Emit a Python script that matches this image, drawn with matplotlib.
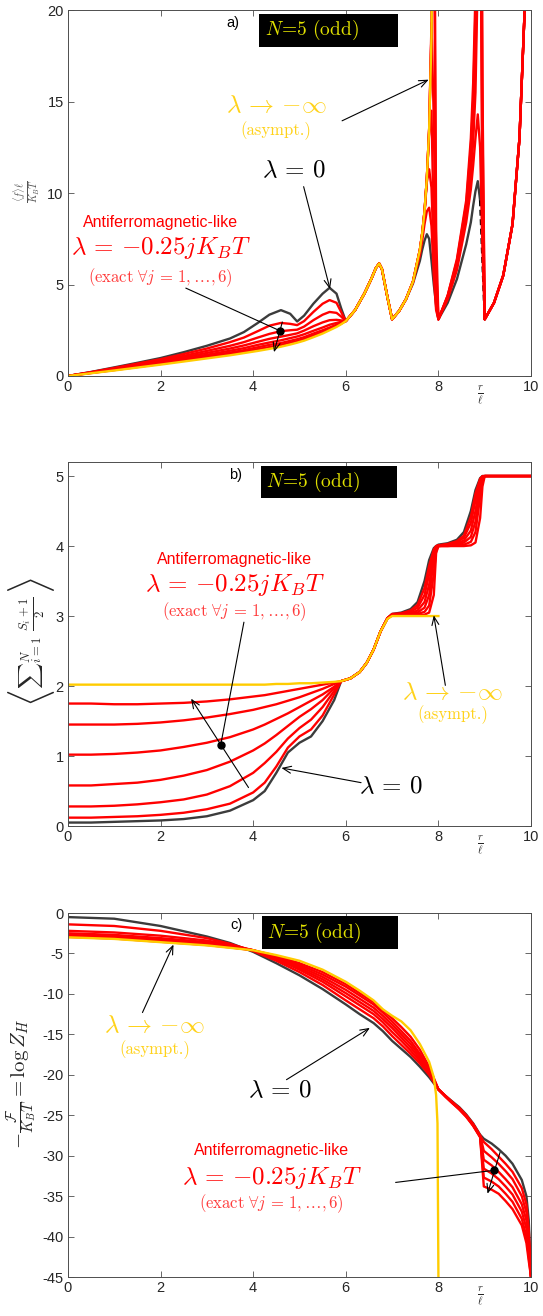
import numpy as np
import matplotlib
matplotlib.use('Agg')
import matplotlib.pyplot as plt
from matplotlib.patches import Rectangle

plt.rcParams['font.family'] = ['Liberation Sans', 'DejaVu Sans']
plt.rcParams['mathtext.fontset'] = 'cm'

NAN = np.nan

# ---------------- panel a: <f> l / KBT ----------------
x_a = [0, 0.5, 1, 1.5, 2, 2.5, 3, 3.5, 3.8, 4.1, 4.35, 4.6, 4.8, 4.95, 5.1, 5.3, 5.5, 5.65, 5.8, 5.9, 6.0,
       6.2, 6.4, 6.55, 6.65, 6.72, 6.78, 6.9, 7.0, 7.05, 7.15, 7.3, 7.45, 7.6,
       7.65, 7.7, 7.75, 7.8, 7.85, 7.9, 7.95, 8.0,
       8.2, 8.4, 8.6, 8.7, 8.75, 8.8, 8.85, 8.9, 8.95, 9.0,
       9.2, 9.4, 9.6, 9.75, 9.87, 10.0]

black_a = [0, 0.22, 0.47, 0.72, 0.98, 1.3, 1.65, 2.05, 2.4, 2.9, 3.35, 3.6, 3.4, 2.98, 3.3, 3.95, 4.5, 4.82, 4.5, 3.7, 3.0,
           3.6, 4.5, 5.3, 5.9, 6.15, 5.85, 4.3, 3.1, 3.25, 3.55, 4.2, 5.05, 6.3,
           6.9, 7.4, 7.75, 7.5, 6.3, 5.0, 3.9, 3.1,
           4.0, 5.3, 7.2, 8.4, 9.3, 10.1, 10.65, 9.6, 6.3, 3.1,
           4.0, 5.5, 8.3, 13.0, 20.5, 30]

reds_a = [
    [0, 0.21, 0.44, 0.68, 0.92, 1.2, 1.5, 1.85, 2.1, 2.45, 2.75, 2.9, 2.85, 2.78, 3.0, 3.5, 3.95, 4.15, 4.0, 3.5, 3.0,
     3.6, 4.5, 5.3, 5.9, 6.15, 5.85, 4.3, 3.1, 3.25, 3.55, 4.2, 5.15, 6.6,
     7.4, 8.3, 9.0, 9.2, 8.2, 5.5, 3.6, 3.1,
     4.2, 5.8, 8.4, 10.2, 11.5, 13.0, 14.3, 12.5, 7.0, 3.1,
     4.0, 5.5, 8.3, 13.0, 20.5, 30],
    [0, 0.2, 0.41, 0.63, 0.86, 1.1, 1.37, 1.65, 1.85, 2.1, 2.3, 2.45, 2.5, 2.53, 2.7, 3.05, 3.35, 3.5, 3.45, 3.25, 3.0,
     3.6, 4.5, 5.3, 5.9, 6.15, 5.85, 4.3, 3.1, 3.25, 3.55, 4.2, 5.15, 6.8,
     7.7, 8.9, 10.6, 11.3, 10.3, 6.5, 3.8, 3.1,
     4.3, 6.0, 8.8, 11.0, 12.8, 15.5, 22, 30, 9, 3.1,
     4.0, 5.5, 8.3, 13.0, 20.5, 30],
    [0, 0.19, 0.38, 0.59, 0.8, 1.02, 1.26, 1.5, 1.67, 1.87, 2.03, 2.15, 2.25, 2.33, 2.48, 2.72, 2.93, 3.05, 3.07, 3.04, 3.0,
     3.6, 4.5, 5.3, 5.9, 6.15, 5.85, 4.3, 3.1, 3.25, 3.55, 4.2, 5.15, 6.9,
     7.8, 9.0, 10.8, 13.3, 14.5, 8.0, 4.2, 3.1,
     4.3, 6.1, 9.0, 11.5, 13.5, 17, 25, 35, 10, 3.1,
     4.0, 5.5, 8.3, 13.0, 20.5, 30],
    [0, 0.18, 0.36, 0.55, 0.75, 0.95, 1.16, 1.38, 1.52, 1.7, 1.83, 1.95, 2.07, 2.16, 2.28, 2.47, 2.65, 2.8, 2.9, 2.96, 3.0,
     3.6, 4.5, 5.3, 5.9, 6.15, 5.85, 4.3, 3.1, 3.25, 3.55, 4.2, 5.15, 6.9,
     7.8, 9.0, 10.8, 13.5, 19.3, 14.0, 5.0, 3.1,
     4.35, 6.2, 9.2, 12.0, 14.3, 19, 28, 40, 12, 3.1,
     4.0, 5.5, 8.3, 13.0, 20.5, 30],
    [0, 0.17, 0.34, 0.52, 0.7, 0.89, 1.08, 1.28, 1.41, 1.57, 1.7, 1.8, 1.92, 2.01, 2.12, 2.32, 2.5, 2.65, 2.8, 2.9, 3.0,
     3.6, 4.5, 5.3, 5.9, 6.15, 5.85, 4.3, 3.1, 3.25, 3.55, 4.2, 5.15, 6.9,
     7.8, 9.0, 10.8, 13.5, 18.8, 28, 6.0, 3.1,
     4.4, 6.3, 9.4, 12.5, 15, 20, 30, 45, 14, 3.1,
     4.0, 5.5, 8.3, 13.0, 20.5, 30],
    [0, 0.16, 0.32, 0.49, 0.66, 0.84, 1.02, 1.2, 1.32, 1.47, 1.58, 1.7, 1.82, 1.91, 2.02, 2.22, 2.4, 2.57, 2.73, 2.86, 3.0,
     3.6, 4.5, 5.3, 5.9, 6.15, 5.85, 4.3, 3.1, 3.25, 3.55, 4.2, 5.15, 6.9,
     7.8, 9.0, 10.8, 13.5, 18.8, 35, 8.0, 3.1,
     4.4, 6.4, 9.6, 13, 16, 21, 32, 50, 16, 3.1,
     4.0, 5.5, 8.3, 13.0, 20.5, 30],
]

yellow_a = [0, 0.15, 0.3, 0.46, 0.62, 0.79, 0.96, 1.13, 1.25, 1.37, 1.48, 1.6, 1.72, 1.82, 1.93, 2.12, 2.32, 2.5, 2.68, 2.83, 3.0,
            3.6, 4.5, 5.3, 5.9, 6.15, 5.85, 4.3, 3.1, 3.25, 3.55, 4.2, 5.15, 6.9,
            7.8, 9.0, 10.8, 13.5, 18.5, 30, NAN, NAN,
            NAN, NAN, NAN, NAN, NAN, NAN, NAN, NAN, NAN, NAN,
            NAN, NAN, NAN, NAN, NAN, NAN]

# ---------------- panel b: <sum (S_i+1)/2> ----------------
x_b = [0, 0.5, 1, 1.5, 2, 2.5, 3, 3.5, 4, 4.25, 4.5, 4.75, 5, 5.25, 5.5, 5.75, 5.9,
       6.1, 6.3, 6.45, 6.6, 6.75, 6.9, 7.0,
       7.2, 7.4, 7.55, 7.7, 7.8, 7.9, 7.95, 8.0,
       8.2, 8.4, 8.55, 8.7, 8.8, 8.9, 8.95, 9.0,
       9.2, 10]

black_b = [0.05, 0.05, 0.06, 0.07, 0.08, 0.1, 0.14, 0.22, 0.37, 0.5, 0.76, 1.05, 1.19, 1.28, 1.5, 1.8, 2.07,
           2.11, 2.2, 2.33, 2.52, 2.78, 2.97, 3.03,
           3.05, 3.1, 3.2, 3.5, 3.8, 3.97, 4.0, 4.02,
           4.04, 4.09, 4.2, 4.5, 4.8, 4.97, 5.0, 5.0,
           5.0, 5.0]

reds_b = [
    [0.12, 0.12, 0.13, 0.14, 0.16, 0.19, 0.24, 0.32, 0.48, 0.62, 0.85, 1.12, 1.28, 1.38, 1.58, 1.88, 2.07,
     2.11, 2.2, 2.33, 2.52, 2.78, 2.97, 3.03,
     3.04, 3.08, 3.16, 3.4, 3.72, 3.95, 4.0, 4.01,
     4.03, 4.07, 4.15, 4.42, 4.75, 4.96, 5.0, 5.0,
     5.0, 5.0],
    [0.28, 0.28, 0.29, 0.31, 0.34, 0.38, 0.45, 0.57, 0.76, 0.9, 1.06, 1.25, 1.4, 1.52, 1.7, 1.93, 2.07,
     2.11, 2.2, 2.33, 2.52, 2.78, 2.97, 3.02,
     3.03, 3.06, 3.12, 3.3, 3.6, 3.92, 3.99, 4.01,
     4.02, 4.05, 4.12, 4.33, 4.65, 4.93, 4.99, 5.0,
     5.0, 5.0],
    [0.58, 0.58, 0.6, 0.62, 0.66, 0.72, 0.8, 0.92, 1.08, 1.18, 1.3, 1.43, 1.56, 1.67, 1.8, 1.97, 2.07,
     2.11, 2.2, 2.33, 2.52, 2.78, 2.97, 3.02,
     3.02, 3.04, 3.08, 3.2, 3.45, 3.88, 3.98, 4.0,
     4.01, 4.03, 4.08, 4.22, 4.5, 4.9, 4.98, 5.0,
     5.0, 5.0],
    [1.02, 1.02, 1.03, 1.05, 1.08, 1.13, 1.19, 1.27, 1.38, 1.45, 1.53, 1.61, 1.7, 1.79, 1.88, 1.99, 2.07,
     2.11, 2.2, 2.33, 2.52, 2.78, 2.97, 3.02,
     3.02, 3.03, 3.05, 3.12, 3.3, 3.8, 3.96, 4.0,
     4.01, 4.02, 4.05, 4.13, 4.35, 4.85, 4.97, 5.0,
     5.0, 5.0],
    [1.45, 1.45, 1.45, 1.46, 1.48, 1.51, 1.55, 1.6, 1.66, 1.7, 1.74, 1.79, 1.84, 1.9, 1.96, 2.03, 2.07,
     2.11, 2.2, 2.33, 2.52, 2.78, 2.97, 3.01,
     3.01, 3.02, 3.03, 3.06, 3.15, 3.6, 3.93, 4.0,
     4.0, 4.01, 4.02, 4.06, 4.2, 4.7, 4.93, 5.0,
     5.0, 5.0],
    [1.75, 1.75, 1.74, 1.74, 1.75, 1.76, 1.78, 1.81, 1.85, 1.87, 1.9, 1.93, 1.96, 1.99, 2.02, 2.05, 2.07,
     2.11, 2.2, 2.33, 2.52, 2.78, 2.97, 3.01,
     3.01, 3.01, 3.01, 3.02, 3.05, 3.3, 3.9, 4.0,
     4.0, 4.0, 4.0, 4.01, 4.05, 4.4, 4.85, 5.0,
     5.0, 5.0],
]

yellow_b = [2.02, 2.02, 2.02, 2.02, 2.02, 2.02, 2.02, 2.02, 2.02, 2.02, 2.03, 2.03, 2.04, 2.04, 2.05, 2.06, 2.07,
            2.11, 2.2, 2.33, 2.52, 2.78, 2.96, 3.0,
            3.0, 3.0, 3.0, 3.0, 3.0, 3.0, 3.0, 3.0,
            NAN, NAN, NAN, NAN, NAN, NAN, NAN, NAN,
            NAN, NAN]

# ---------------- panel c: -F/KBT = log Z_H ----------------
x_c = [0, 1, 2, 3, 3.5, 4, 4.5, 5, 5.5, 6, 6.3, 6.6, 6.8, 7.0, 7.2, 7.4, 7.6, 7.8, 8.0,
       8.15, 8.3, 8.45, 8.6, 8.75, 8.9, 8.98, 9.15, 9.3, 9.45, 9.6, 9.8, 9.9, 9.95, 10.0]

black_c = [-0.5, -0.7, -1.6, -2.9, -3.7, -4.8, -6.2, -7.7, -9.4, -11.3, -12.5, -13.6, -14.6, -15.8, -16.8,
           -17.8, -19.0, -20.3, -21.8,
           -22.6, -23.3, -24.0, -24.9, -26.0, -27.4, -27.9, -28.5, -29.2, -30.0, -31.0, -33.0, -35.0, -38.0, -45]

reds_c = [
    [-1.4, -1.6, -2.2, -3.1, -3.8, -4.7, -5.9, -7.3, -8.9, -10.8, -11.9, -13.0, -14.0, -15.2, -16.3,
     -17.4, -18.6, -20.0, -21.8,
     -22.6, -23.4, -24.1, -25.0, -26.1, -27.5, -28.3, -29.2, -30.1, -31.0, -32.0, -34.0, -36.0, -39.0, -45],
    [-2.2, -2.4, -2.8, -3.4, -3.9, -4.6, -5.7, -7.0, -8.5, -10.3, -11.4, -12.5, -13.5, -14.7, -15.8,
     -17.0, -18.3, -19.8, -21.8,
     -22.6, -23.4, -24.1, -25.0, -26.1, -27.5, -29.4, -30.2, -31.0, -31.9, -32.9, -35.0, -37.0, -40.0, -45],
    [-2.5, -2.7, -3.1, -3.6, -4.0, -4.6, -5.6, -6.8, -8.2, -9.9, -11.0, -12.1, -13.1, -14.2, -15.4,
     -16.6, -18.0, -19.6, -21.8,
     -22.6, -23.4, -24.2, -25.1, -26.2, -27.6, -30.5, -31.2, -32.0, -32.9, -33.9, -36.0, -38.0, -41.0, -45],
    [-2.7, -2.9, -3.3, -3.75, -4.1, -4.6, -5.5, -6.6, -7.9, -9.5, -10.6, -11.7, -12.7, -13.8, -15.0,
     -16.2, -17.7, -19.4, -21.8,
     -22.6, -23.4, -24.2, -25.1, -26.2, -27.6, -31.6, -32.2, -32.9, -33.8, -34.8, -36.9, -39.0, -41.8, -45],
    [-2.85, -3.05, -3.45, -3.85, -4.2, -4.6, -5.4, -6.4, -7.6, -9.1, -10.2, -11.3, -12.3, -13.4, -14.6,
     -15.8, -17.4, -19.2, -21.8,
     -22.7, -23.5, -24.2, -25.1, -26.3, -27.7, -32.7, -33.2, -33.8, -34.7, -35.7, -37.8, -40.0, -42.5, -45],
    [-2.95, -3.15, -3.55, -3.95, -4.25, -4.6, -5.3, -6.2, -7.3, -8.8, -9.9, -11.0, -12.0, -13.0, -14.1,
     -15.3, -16.9, -19.0, -21.8,
     -22.7, -23.5, -24.3, -25.2, -26.3, -27.7, -33.8, -34.2, -34.7, -35.6, -36.6, -38.6, -40.8, -43.0, -45],
]

x_c_yellow = [0, 1, 2, 3, 3.5, 4, 4.5, 5, 5.5, 6, 6.3, 6.6, 6.8, 7.0, 7.2, 7.4, 7.6, 7.8, 7.9, 7.95, 7.98, 8.0]
yellow_c = [-3.0, -3.2, -3.6, -4.0, -4.3, -4.6, -5.2, -5.9, -7.0, -8.5, -9.6, -10.8, -11.9, -12.7, -13.4,
            -14.5, -16.2, -18.4, -20.3, -22.5, -26.0, -45]

yticks_a = [0, 5, 10, 15, 20]
yticks_b = [0, 1, 2, 3, 4, 5]
yticks_c = [0, -5, -10, -15, -20, -25, -30, -35, -40, -45]
xticks = [0, 2, 4, 6, 8, 10]

RED = '#ff0000'
BLK = '#3c3c3c'
YEL = '#ffcc00'
YEL_TXT = '#ffd21a'
TXT = '#262626'

fig = plt.figure(figsize=(5.43, 13.16), dpi=100)
ax_a = fig.add_axes([0.125, 0.7143, 0.853, 0.278])
ax_b = fig.add_axes([0.125, 0.3723, 0.853, 0.2766])
ax_c = fig.add_axes([0.125, 0.0296, 0.853, 0.2766])


def style(ax, yt, ylim):
    ax.set_xlim(0, 10)
    ax.set_ylim(*ylim)
    ax.set_xticks(xticks)
    ax.set_xticklabels([str(t) for t in xticks])
    ax.set_yticks(yt)
    ax.set_yticklabels([str(t) for t in yt])
    ax.tick_params(direction='in', top=True, right=True, length=4, width=0.6,
                   labelsize=10.5, colors='#4d4d4d', labelcolor=TXT, pad=3)
    for s in ax.spines.values():
        s.set_color('#4d4d4d')
        s.set_linewidth(0.7)
    ax.text(8.9, -0.055, r'$\frac{r}{\ell}$', transform=ax.get_xaxis_transform(),
            ha='center', va='center', fontsize=11, color=TXT)


def nbox(ax, x0, y0, w, h, label):
    ax.add_patch(Rectangle((x0, y0), w, h, facecolor='black', edgecolor='none', zorder=6))
    ax.text(x0 + w * 0.38, y0 + h * 0.5, r'$N\!=\!5\ \mathrm{(odd)}$', ha='center', va='center',
            fontsize=14, color='#e0e000', zorder=7)
    ax.text(x0 - 0.55, y0 + h * 0.72, label, ha='center', va='center', fontsize=10.5,
            color='black', zorder=7)


def afm_text(ax, x, y1, y2, y3):
    ax.text(x, y1, 'Antiferromagnetic-like', ha='center', va='center', fontsize=11.5, color=RED)
    ax.text(x, y2, r'$\lambda\,=\,{-0.25}jK_BT$', ha='center', va='center', fontsize=18, color=RED)
    ax.text(x, y3, r'$\mathrm{(exact}\ \forall j\,=\,1,\ldots,6)$', ha='center', va='center',
            fontsize=12, color='#ff3b3b')


def asym_text(ax, x, y1, y2):
    ax.text(x, y1, r'$\lambda\,\rightarrow\,{-\infty}$', ha='center', va='center', fontsize=18,
            color=YEL_TXT)
    ax.text(x, y2, '(asympt.)', ha='center', va='center', fontsize=12, color=YEL_TXT,
            family='cmr10')


def arrow(ax, xy_from, xy_to):
    ax.annotate('', xy=xy_to, xytext=xy_from,
                arrowprops=dict(arrowstyle='->,head_length=0.6,head_width=0.25', color='black',
                                lw=0.8, shrinkA=0, shrinkB=0), zorder=8)


LW = 1.7

# ---- panel a ----
ax = ax_a
xa = np.array(x_a)
ba = np.array(black_a)
k = x_a.index(8.9)
ax.plot(xa[:k + 1], ba[:k + 1], color=BLK, lw=LW)
ax.plot(xa[k + 2:], ba[k + 2:], color=BLK, lw=LW)
ax.plot(xa[k:k + 3], ba[k:k + 3], color='black', lw=LW, ls=(0, (2.5, 1.5)))
for ys in reds_a:
    ax.plot(x_a, ys, color=RED, lw=LW)
ax.plot(x_a, yellow_a, color=YEL, lw=LW)
style(ax, yticks_a, (0, 20))
nbox(ax, 4.12, 18.0, 3.0, 1.8, 'a)')
asym_text(ax, 4.49, 14.8, 13.4)
arrow(ax, (5.92, 13.95), (7.79, 16.2))
ax.text(4.87, 11.25, r'$\lambda\,=\,0$', ha='center', va='center', fontsize=18, color='black')
arrow(ax, (5.09, 10.35), (5.66, 4.75))
afm_text(ax, 2.0, 8.38, 6.98, 5.4)
ax.plot([2.55, 4.57], [4.8, 2.48], color='black', lw=0.8, zorder=8)
ax.plot([4.57], [2.48], 'o', color='black', ms=5, zorder=9)
arrow(ax, (4.63, 2.95), (4.45, 1.3))
ax.text(-0.089, 0.505, r'$\frac{\langle f\rangle\ell}{K_BT}$', transform=ax.transAxes, rotation=90,
        ha='center', va='center', fontsize=10.5, color='#555555')

# ---- panel b ----
ax = ax_b
ax.plot(x_b, black_b, color=BLK, lw=LW)
for ys in reds_b:
    ax.plot(x_b, ys, color=RED, lw=LW)
ax.plot(x_b, yellow_b, color=YEL, lw=LW)
style(ax, yticks_b, (0, 5.2))
nbox(ax, 4.17, 4.68, 2.93, 0.46, 'b)')
afm_text(ax, 3.6, 3.81, 3.44, 3.06)
ax.plot([3.8, 3.3], [2.91, 1.16], color='black', lw=0.8, zorder=8)
ax.plot([3.3], [1.16], 'o', color='black', ms=5, zorder=9)
arrow(ax, (3.9, 0.55), (2.66, 1.82))
asym_text(ax, 8.3, 1.92, 1.59)
arrow(ax, (8.15, 2.01), (7.9, 3.01))
ax.text(6.97, 0.57, r'$\lambda\,=\,0$', ha='center', va='center', fontsize=18, color='black')
arrow(ax, (6.33, 0.62), (4.61, 0.83))
ax.text(-0.078, 0.503, r'${\sum}_{i=1}^{N}\ \frac{S_i+1}{2}$',
        transform=ax.transAxes, rotation=90, ha='center', va='center', fontsize=13, color=TXT)
ax.text(-0.078, 0.35, r'$\langle$', transform=ax.transAxes, rotation=90,
        ha='center', va='center', fontsize=28, color=TXT)
ax.text(-0.078, 0.66, r'$\rangle$', transform=ax.transAxes, rotation=90,
        ha='center', va='center', fontsize=28, color=TXT)

# ---- panel c ----
ax = ax_c
ax.plot(x_c, black_c, color=BLK, lw=LW)
for ys in reds_c:
    ax.plot(x_c, ys, color=RED, lw=LW)
ax.plot(x_c_yellow, yellow_c, color=YEL, lw=LW)
style(ax, yticks_c, (-45, 0))
nbox(ax, 4.19, -4.44, 2.93, 4.03, 'c)')
asym_text(ax, 1.87, -13.8, -16.85)
arrow(ax, (1.61, -12.3), (2.28, -3.9))
ax.text(4.57, -21.9, r'$\lambda\,=\,0$', ha='center', va='center', fontsize=18, color='black')
arrow(ax, (4.72, -20.6), (6.52, -14.2))
afm_text(ax, 4.4, -29.4, -32.7, -35.9)
ax.plot([7.08, 9.21], [-33.3, -31.8], color='black', lw=0.8, zorder=8)
ax.plot([9.21], [-31.8], 'o', color='black', ms=5, zorder=9)
arrow(ax, (9.33, -29.6), (9.06, -34.7))
ax.text(-0.1, 0.53, r'$-\frac{\mathcal{F}}{K_BT} = \log Z_H$', transform=ax.transAxes,
        rotation=90, ha='center', va='center', fontsize=15, color=TXT)

fig.savefig('out.png', dpi=100)
